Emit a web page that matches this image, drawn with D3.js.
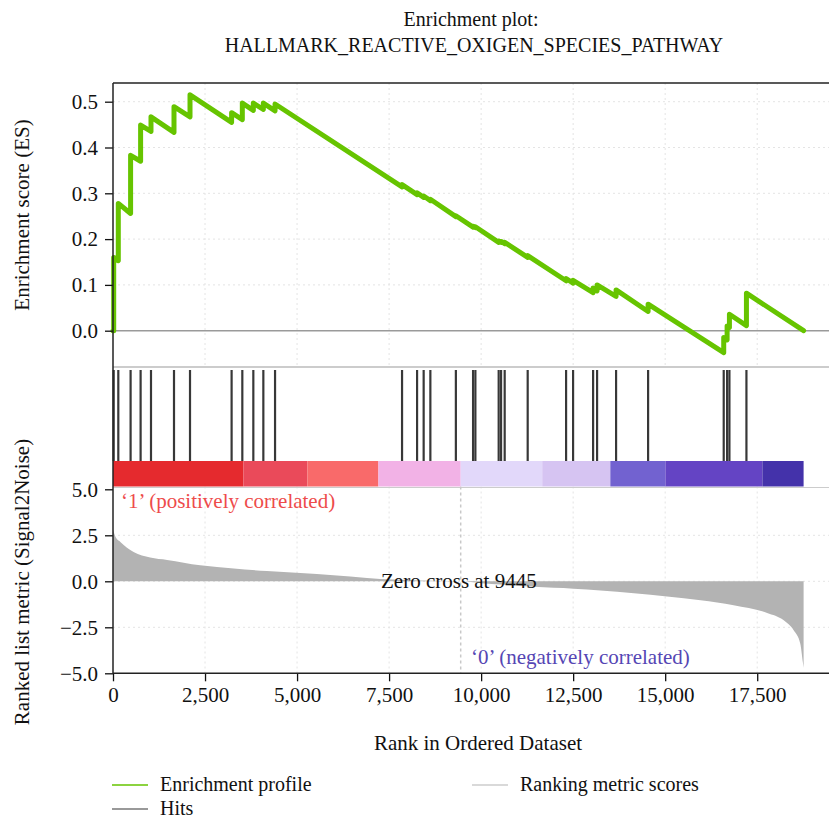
<!DOCTYPE html>
<html>
<head>
  <meta charset="utf-8">
  <title>Enrichment plot</title>
  <script src="https://d3js.org/d3.v7.min.js"></script>
  <style>
    body { margin: 0; background: #fff; }
    text { font-family: "Liberation Serif", "DejaVu Serif", serif; }
  </style>
</head>
<body>
<script>
// hit positions in the ranked list, with the running ES just before / after each hit
var hitRanks = [19, 144, 478, 750, 1032, 1657, 2092, 3222, 3513, 3812, 4084, 4402,
  7852, 8260, 8439, 8621, 9314, 9781, 9844, 10477, 10542, 10640, 11265, 12308, 12498,
  13042, 13150, 13666, 14536, 16590, 16682, 16745, 17207];
var esBefore = [0.0, 0.153, 0.256, 0.370, 0.435, 0.433, 0.467, 0.455, 0.461, 0.481, 0.483, 0.480,
  0.314, 0.297, 0.291, 0.284, 0.249, 0.226, 0.225, 0.193, 0.193, 0.190, 0.160, 0.109, 0.104,
  0.083, 0.087, 0.075, 0.042, -0.048, -0.020, 0.007, 0.011];
var esAfter = [0.160, 0.278, 0.383, 0.449, 0.467, 0.489, 0.515, 0.476, 0.497, 0.497, 0.497, 0.495,
  0.319, 0.301, 0.294, 0.287, 0.251, 0.228, 0.227, 0.196, 0.195, 0.193, 0.164, 0.114, 0.110,
  0.093, 0.100, 0.089, 0.058, -0.015, 0.010, 0.036, 0.082];
var totalGenes = 18760;
var zeroCross = 9445;

// ranked list metric (Signal2Noise)
var metricRank = [0, 60, 200, 560, 1010, 1470, 2370, 3280, 4180, 5090, 5990, 6900, 7260, 8000,
  8700, 9445, 10000, 10800, 11430, 12510, 13240, 14150, 15050, 15960, 16860, 17770, 18220,
  18490, 18670, 18740, 18760];
var metricValue = [2.8, 2.45, 2.14, 1.59, 1.29, 1.16, 0.87, 0.69, 0.56, 0.45, 0.33, 0.18, 0.12, 0.07,
  0.03, 0, -0.1, -0.2, -0.3, -0.4, -0.5, -0.65, -0.82, -1.03, -1.3, -1.72, -2.12,
  -2.66, -3.39, -4.4, -4.7];

// colour bar blocks
var barStart = [0, 3540, 5280, 7210, 9445, 11660, 13510, 15005, 17640];
var barColor = ["#e52a2e", "#ea4a5a", "#f96a6a", "#f2b2e6", "#e2d8fa", "#d6c4f2", "#7262d0", "#6444c4", "#4432aa"];

var esTicks = [0, 0.1, 0.2, 0.3, 0.4, 0.5];
var metricTicks = [-5, -2.5, 0, 2.5, 5];
var xTicks = [0, 2500, 5000, 7500, 10000, 12500, 15000, 17500];

var width = 829, height = 820;
var svg = d3.select("body").append("svg")
    .attr("width", width)
    .attr("height", height);

var x = d3.scaleLinear().domain([0, 19450]).range([113, 829]);
var yES = d3.scaleLinear().domain([0, 0.5]).range([330.7, 101.7]);
var yM = d3.scaleLinear().domain([-5, 5]).range([673.3, 489.3]);

var esTop = 83, esBottom = 367, hitTop = 370, barTop = 461, barBottom = 486.5, mBottom = 673.3;

// grid (very faint, dotted)
var grid = svg.append("g").attr("stroke", "#e4e4e4").attr("stroke-dasharray", "2,3").attr("stroke-width", 1);
xTicks.slice(1).forEach(function(t) {
  grid.append("line").attr("x1", x(t)).attr("x2", x(t)).attr("y1", esTop).attr("y2", esBottom);
  grid.append("line").attr("x1", x(t)).attr("x2", x(t)).attr("y1", barBottom).attr("y2", mBottom);
});
esTicks.slice(1).forEach(function(t) {
  grid.append("line").attr("x1", 113).attr("x2", 829).attr("y1", yES(t)).attr("y2", yES(t));
});
metricTicks.slice(1, 4).forEach(function(t) {
  grid.append("line").attr("x1", 113).attr("x2", 829).attr("y1", yM(t)).attr("y2", yM(t));
});

// ES zero line
svg.append("line").attr("x1", 113).attr("x2", 829)
  .attr("y1", yES(0)).attr("y2", yES(0))
  .attr("stroke", "#9a9a9a").attr("stroke-width", 1.5);

// panel separators
svg.append("line").attr("x1", 113).attr("x2", 829).attr("y1", esBottom).attr("y2", esBottom)
  .attr("stroke", "#bbb").attr("stroke-width", 1.5);
svg.append("line").attr("x1", 113).attr("x2", 829).attr("y1", barBottom + 1).attr("y2", barBottom + 1)
  .attr("stroke", "#ccc").attr("stroke-width", 1);

// ranked metric area
var area = d3.area()
    .x(function(d) { return x(d[0]); })
    .y0(yM(0))
    .y1(function(d) { return yM(d[1]); })
    .curve(d3.curveMonotoneX);
svg.append("path")
  .datum(metricRank.map(function(r, i) { return [r, metricValue[i]]; }))
  .attr("d", area)
  .attr("fill", "#b3b3b3");

// zero cross marker
svg.append("line").attr("x1", x(zeroCross)).attr("x2", x(zeroCross))
  .attr("y1", barBottom).attr("y2", mBottom)
  .attr("stroke", "#c8c8c8").attr("stroke-width", 1.5).attr("stroke-dasharray", "3,3");

// colour bar
svg.append("g").selectAll("rect")
  .data(barStart)
  .enter().append("rect")
    .attr("x", function(d) { return x(d); })
    .attr("width", function(d, i) {
      var end = i < barStart.length - 1 ? barStart[i + 1] : totalGenes;
      return x(end) - x(d);
    })
    .attr("y", barTop)
    .attr("height", barBottom - barTop)
    .attr("fill", function(d, i) { return barColor[i]; });

// hits
svg.append("g").selectAll("line")
  .data(hitRanks)
  .enter().append("line")
    .attr("x1", function(d) { return x(d); })
    .attr("x2", function(d) { return x(d); })
    .attr("y1", hitTop)
    .attr("y2", barTop)
    .attr("stroke", "#383838")
    .attr("stroke-width", 2.2);

// enrichment profile
var esPoints = [[0, 0]];
hitRanks.forEach(function(r, i) {
  esPoints.push([r, esBefore[i]]);
  esPoints.push([r, esAfter[i]]);
});
esPoints.push([totalGenes, 0]);
var line = d3.line()
    .x(function(d) { return x(d[0]); })
    .y(function(d) { return yES(d[1]); });
svg.append("path")
  .datum(esPoints)
  .attr("d", line)
  .attr("fill", "none")
  .attr("stroke", "#66c400")
  .attr("stroke-width", 5)
  .attr("stroke-linejoin", "round")
  .attr("stroke-linecap", "round");

// axes
function styleAxis(g) {
  g.selectAll("text").attr("font-family", "Liberation Serif, DejaVu Serif, serif")
    .attr("font-size", 21).attr("fill", "#111");
  g.selectAll(".tick line").attr("stroke", "#111").attr("stroke-width", 1.3);
  g.select(".domain").remove();
}
svg.append("g")
  .attr("transform", "translate(113,0)")
  .call(d3.axisLeft(yES).tickValues(esTicks).tickFormat(d3.format(".1f")).tickSize(8).tickPadding(7))
  .call(styleAxis);
svg.append("g")
  .attr("transform", "translate(113,0)")
  .call(d3.axisLeft(yM).tickValues(metricTicks).tickFormat(d3.format(".1f")).tickSize(8).tickPadding(7))
  .call(styleAxis);
svg.append("g")
  .attr("transform", "translate(0," + mBottom + ")")
  .call(d3.axisBottom(x).tickValues(xTicks).tickFormat(d3.format(",")).tickSize(8).tickPadding(6))
  .call(styleAxis);

// spines
svg.append("line").attr("x1", 113).attr("x2", 829).attr("y1", esTop).attr("y2", esTop)
  .attr("stroke", "#222").attr("stroke-width", 1.5);
svg.append("line").attr("x1", 113).attr("x2", 113).attr("y1", esTop).attr("y2", mBottom)
  .attr("stroke", "#222").attr("stroke-width", 1.5);
svg.append("line").attr("x1", 113).attr("x2", 829).attr("y1", mBottom).attr("y2", mBottom)
  .attr("stroke", "#222").attr("stroke-width", 1.5);

// annotations
svg.append("text").attr("x", 121).attr("y", 508).attr("font-size", 21)
  .attr("fill", "#ee4b4b").text("\u20181\u2019 (positively correlated)");
svg.append("text").attr("x", 471).attr("y", 664).attr("font-size", 21)
  .attr("fill", "#5546b4").text("\u20180\u2019 (negatively correlated)");
svg.append("text").attr("x", 381).attr("y", 588).attr("font-size", 21)
  .attr("fill", "#111").text("Zero cross at " + zeroCross);

// titles
svg.append("text").attr("x", 471).attr("y", 26).attr("text-anchor", "middle").attr("font-size", 20)
  .attr("fill", "#111").text("Enrichment plot:");
svg.append("text").attr("x", 474).attr("y", 52).attr("text-anchor", "middle").attr("font-size", 20)
  .attr("fill", "#111").text("HALLMARK_REACTIVE_OXIGEN_SPECIES_PATHWAY");
svg.append("text").attr("x", 478).attr("y", 750).attr("text-anchor", "middle").attr("font-size", 21)
  .attr("fill", "#111").text("Rank in Ordered Dataset");
svg.append("text").attr("transform", "translate(29,215) rotate(-90)").attr("text-anchor", "middle")
  .attr("font-size", 21).attr("fill", "#111").text("Enrichment score (ES)");
svg.append("text").attr("transform", "translate(29,582) rotate(-90)").attr("text-anchor", "middle")
  .attr("font-size", 21).attr("fill", "#111").text("Ranked list metric (Signal2Noise)");

// legend
var legend = [
  { label: "Enrichment profile", color: "#66c400", lx: 112, ly: 785 },
  { label: "Hits", color: "#777", lx: 112, ly: 809 },
  { label: "Ranking metric scores", color: "#ccc", lx: 472, ly: 785 }
];
var lg = svg.append("g");
legend.forEach(function(d) {
  lg.append("line").attr("x1", d.lx).attr("x2", d.lx + 36).attr("y1", d.ly).attr("y2", d.ly)
    .attr("stroke", d.color).attr("stroke-width", 1.5);
  lg.append("text").attr("x", d.lx + 48).attr("y", d.ly + 6).attr("font-size", 20)
    .attr("fill", "#111").text(d.label);
});
</script>
</body>
</html>
